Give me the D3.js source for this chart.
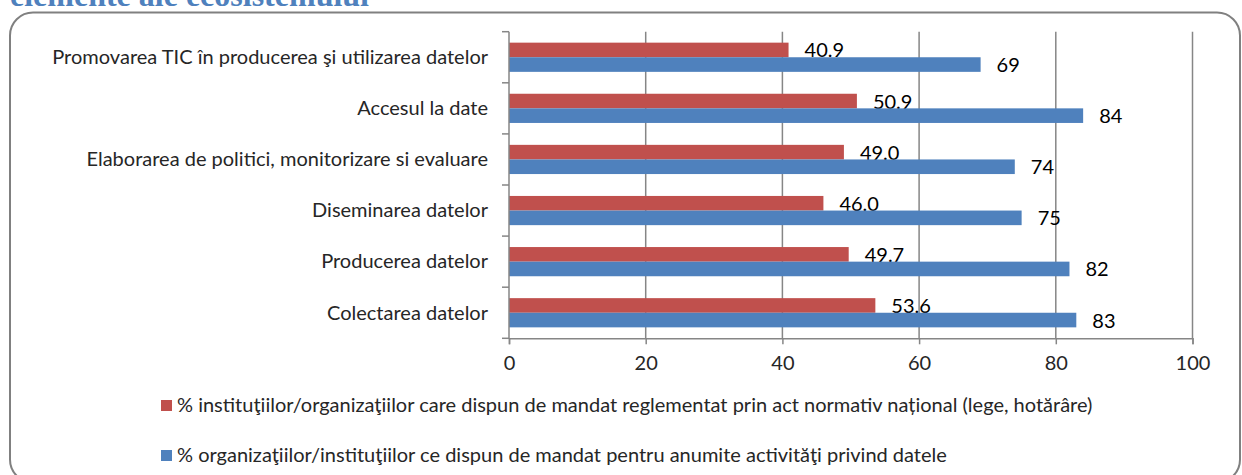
<!DOCTYPE html>
<html>
<head>
<meta charset="utf-8">
<script src="https://cdn.jsdelivr.net/npm/d3@7"></script>
<style>
  html, body { margin: 0; padding: 0; background: #fff; }
  svg { display: block; }
</style>
</head>
<body>
<div id="chart"></div>
<script>
const categories = [
  'Promovarea TIC în producerea şi utilizarea datelor',
  'Accesul la date',
  'Elaborarea de politici, monitorizare si evaluare',
  'Diseminarea datelor',
  'Producerea datelor',
  'Colectarea datelor'
]
const mandatNormativ = [40.9, 50.9, 49.0, 46.0, 49.7, 53.6]
const mandatActivitati = [69, 84, 74, 75, 82, 83]
const seriesNames = [
  '% instituţiilor/organizaţiilor care dispun de mandat reglementat prin act normativ național (lege, hotărâre)',
  '% organizaţiilor/instituţiilor ce dispun de mandat pentru anumite activităţi privind datele'
]
const xTicks = [0, 20, 40, 60, 80, 100]
const titleText = 'elemente ale ecosistemului'

const W = 1242, H = 475
const FONT = 'Lato, "Open Sans", sans-serif'
const FS = 20
const colors = ['#C0504D', '#4F81BD']
const gridColor = '#868686'

const svg = d3.select('#chart').append('svg')
  .attr('width', W)
  .attr('height', H)

// heading of the page section, cut off by the top edge like in the source
svg.append('text')
  .attr('x', 10)
  .attr('y', 6)
  .attr('font-family', '"Liberation Serif", "Times New Roman", serif')
  .attr('font-weight', 'bold')
  .attr('font-size', 32)
  .attr('fill', '#4F81BD')
  .text(titleText)

// rounded frame, bottom edge runs past the picture
svg.append('rect')
  .attr('x', 10)
  .attr('y', 12.5)
  .attr('width', 1230)
  .attr('height', 470)
  .attr('rx', 23)
  .attr('fill', 'none')
  .attr('stroke', '#808080')
  .attr('stroke-width', 2)

const x = d3.scaleLinear()
  .domain([0, 100])
  .range([509, 1192.5])

const y = d3.scaleBand()
  .domain(categories)
  .range([31.7, 338.3])

const series = [
  { name: seriesNames[0], values: mandatNormativ, color: colors[0], fmt: d3.format('.1f') },
  { name: seriesNames[1], values: mandatActivitati, color: colors[1], fmt: d3.format('d') }
]

// gap width 150% -> outer padding 0.75 of one bar
const yInner = d3.scaleBand()
  .domain([0, 1])
  .range([0, y.bandwidth()])
  .paddingOuter(0.75)

const [plotTop, plotBottom] = y.range()

// gridlines
svg.append('g')
  .selectAll('line')
  .data(xTicks.slice(1))
  .join('line')
  .attr('x1', d => x(d))
  .attr('x2', d => x(d))
  .attr('y1', plotTop)
  .attr('y2', plotBottom)
  .attr('stroke', gridColor)
  .attr('stroke-width', 1.5)

// bars
const groups = svg.append('g')
  .selectAll('g')
  .data(series)
  .join('g')
  .attr('fill', d => d.color)

groups.each(function(s, si) {
  const g = d3.select(this)
  g.selectAll('rect')
    .data(s.values)
    .join('rect')
    .attr('x', x(0))
    .attr('y', (d, i) => y(categories[i]) + yInner(si))
    .attr('width', d => x(d) - x(0))
    .attr('height', yInner.bandwidth())

  g.selectAll('text')
    .data(s.values)
    .join('text')
    .attr('x', d => x(d) + 16)
    .attr('y', (d, i) => y(categories[i]) + yInner(si) + yInner.bandwidth() / 2 + 7.5)
    .attr('font-family', FONT)
    .attr('font-size', FS)
    .attr('fill', '#000')
    .text(d => s.fmt(d))
})

// x axis
const xAxis = svg.append('g')
  .attr('transform', `translate(0,${plotBottom})`)
  .call(d3.axisBottom(x).tickValues(xTicks).tickSize(6).tickPadding(12))
xAxis.select('.domain').attr('stroke', gridColor).attr('stroke-width', 1.5)
xAxis.selectAll('.tick line').attr('stroke', gridColor).attr('stroke-width', 1.5)
xAxis.selectAll('.tick text')
  .attr('font-family', FONT)
  .attr('font-size', FS)
  .attr('fill', '#262626')

// y axis with ticks between categories
const yAxis = svg.append('g')
  .attr('transform', `translate(${x(0)},0)`)
yAxis.append('line')
  .attr('y1', plotTop)
  .attr('y2', plotBottom)
  .attr('stroke', gridColor)
  .attr('stroke-width', 1.5)
yAxis.selectAll('.cat-tick')
  .data(categories.map(c => y(c)).concat([plotBottom]))
  .join('line')
  .attr('class', 'cat-tick')
  .attr('x1', -7)
  .attr('x2', 0)
  .attr('y1', d => d)
  .attr('y2', d => d)
  .attr('stroke', gridColor)
  .attr('stroke-width', 1.5)
yAxis.selectAll('text')
  .data(categories)
  .join('text')
  .attr('x', -21)
  .attr('y', d => y(d) + y.bandwidth() / 2)
  .attr('dy', '0.34em')
  .attr('text-anchor', 'end')
  .attr('font-family', FONT)
  .attr('font-size', FS)
  .attr('fill', '#262626')
  .text(d => d)

// legend
const legend = svg.append('g')
  .selectAll('g')
  .data(series)
  .join('g')
  .attr('transform', (d, i) => `translate(161,${400 + i * 50})`)
legend.append('rect')
  .attr('width', 11)
  .attr('height', 11)
  .attr('fill', d => d.color)
legend.append('text')
  .attr('x', 16)
  .attr('y', 12)
  .attr('font-family', FONT)
  .attr('font-size', FS)
  .attr('fill', '#262626')
  .text(d => d.name)
</script>
</body>
</html>
